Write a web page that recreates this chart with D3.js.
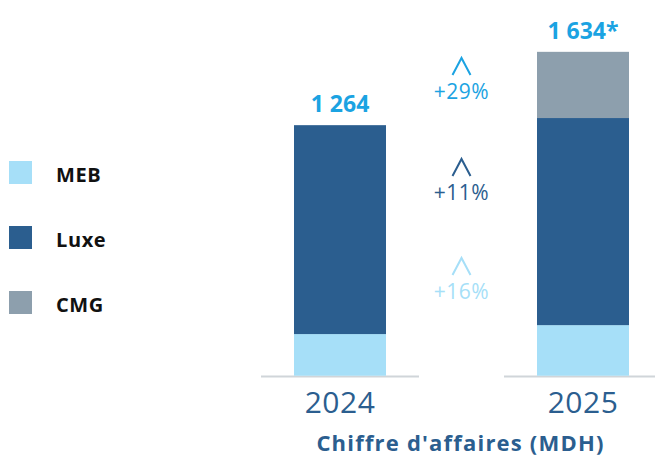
<!DOCTYPE html>
<html>
<head>
<meta charset="utf-8">
<script src="https://cdn.jsdelivr.net/npm/d3@7"></script>
<style>
  body { margin: 0; background: #fff; }
  svg { display: block; font-family: "Open Sans", "DejaVu Sans", sans-serif; }
</style>
</head>
<body>
<svg width="655" height="456"></svg>
<script>
// Data
const years = ["2024", "2025"];
const segments = ["MEB", "Luxe", "CMG"];
const meb = [210, 255];
const luxe = [1054, 1045];
const cmg = [0, 334];
const totals = ["1 264", "1 634*"];
const growthLabels = ["+29%", "+11%", "+16%"];

const colors = { MEB: "#a6dff8", Luxe: "#2b5e8f", CMG: "#8d9fad" };
const growthColors = ["#1ba3e2", "#2b5e8f", "#a6dff8"];

const svg = d3.select("svg");

// Scales
const x = d3.scalePoint().domain(years).range([340, 583]);
const barW = 92;
const y = d3.scaleLinear().domain([0, 1449]).range([375.7, 88.5]);

const rows = years.map((yr, i) => ({ year: yr, MEB: meb[i], Luxe: luxe[i], CMG: cmg[i] }));
const stack = d3.stack().keys(segments)(rows);

// baseline segments
svg.append("g")
  .selectAll("line")
  .data(years)
  .enter()
  .append("line")
    .attr("x1", d => x(d) - 79)
    .attr("x2", d => x(d) + 79)
    .attr("y1", 376.5)
    .attr("y2", 376.5)
    .attr("stroke", "#d0d5d9")
    .attr("stroke-width", 2);

// bars
svg.append("g")
  .selectAll("g")
  .data(stack)
  .enter()
  .append("g")
    .attr("fill", d => colors[d.key])
  .selectAll("rect")
  .data(d => d)
  .enter()
  .append("rect")
    .attr("x", d => x(d.data.year) - barW / 2)
    .attr("width", barW)
    .attr("y", d => y(d[1]))
    .attr("height", d => y(d[0]) - y(d[1]));

// totals
svg.append("g")
  .selectAll("text")
  .data(years)
  .enter()
  .append("text")
    .attr("x", d => x(d))
    .attr("y", (d, i) => y(meb[i] + luxe[i] + cmg[i]) - 13)
    .attr("text-anchor", "middle")
    .attr("fill", "#1ba3e2")
    .attr("font-size", 23)
    .attr("font-weight", 700)
    .text((d, i) => totals[i]);

// year axis labels
svg.append("g")
  .selectAll("text")
  .data(years)
  .enter()
  .append("text")
    .attr("x", d => x(d))
    .attr("y", 413)
    .attr("text-anchor", "middle")
    .attr("fill", "#2b5e8f")
    .attr("font-size", 30)
    .attr("letter-spacing", 0.5)
    .text(d => d);

// title
svg.append("text")
  .attr("x", 460.5)
  .attr("y", 451)
  .attr("text-anchor", "middle")
  .attr("fill", "#2b5e8f")
  .attr("font-size", 22)
  .attr("font-weight", 700)
  .attr("letter-spacing", 1.2)
  .text("Chiffre d'affaires (MDH)");

// growth indicators
const mid = (x(years[0]) + x(years[1])) / 2;
const gy = [58, 159, 258];
const growth = svg.append("g")
  .selectAll("g")
  .data(growthLabels)
  .enter()
  .append("g")
    .attr("transform", (d, i) => `translate(${mid},${gy[i]})`);

growth.append("path")
  .attr("d", "M-9,17 L0,0 L9,17")
  .attr("fill", "none")
  .attr("stroke", (d, i) => growthColors[i])
  .attr("stroke-width", 2);

growth.append("text")
  .attr("x", 0)
  .attr("y", 41)
  .attr("text-anchor", "middle")
  .attr("fill", (d, i) => growthColors[i])
  .attr("font-size", 21)
  .attr("letter-spacing", 0.5)
  .text(d => d);

// legend
const legend = svg.append("g")
  .selectAll("g")
  .data(segments)
  .enter()
  .append("g")
    .attr("transform", (d, i) => `translate(9,${161 + i * 65})`);

legend.append("rect")
  .attr("width", 23)
  .attr("height", 23)
  .attr("fill", d => colors[d]);

legend.append("text")
  .attr("x", 47)
  .attr("y", 21)
  .attr("fill", "#111")
  .attr("font-size", 20)
  .attr("font-weight", 700)
  .attr("letter-spacing", 0.6)
  .text(d => d);
</script>
</body>
</html>
